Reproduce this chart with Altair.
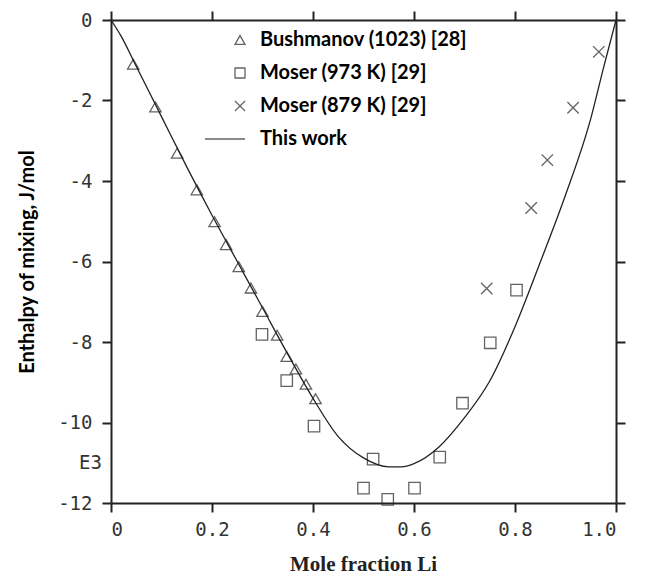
import altair as alt
import pandas as pd

# ---- data ----
series_names = ["Bushmanov  (1023) [28]", "Moser (973 K) [29]", "Moser (879 K) [29]", "This work"]

tri_x = [0.044, 0.088, 0.131, 0.170, 0.205, 0.228, 0.253, 0.277, 0.300, 0.329, 0.348, 0.366, 0.386, 0.405]
tri_y = [-1.10, -2.16, -3.31, -4.22, -5.01, -5.58, -6.13, -6.66, -7.24, -7.83, -8.36, -8.67, -9.05, -9.41]

sq_x = [0.299, 0.348, 0.402, 0.500, 0.519, 0.548, 0.601, 0.651, 0.696, 0.751, 0.803]
sq_y = [-7.81, -8.96, -10.09, -11.63, -10.91, -11.91, -11.63, -10.86, -9.52, -8.02, -6.71]

cr_x = [0.744, 0.832, 0.864, 0.915, 0.966]
cr_y = [-6.67, -4.67, -3.48, -2.18, -0.79]

curve_x = [0.0, 0.02, 0.05, 0.10, 0.15, 0.20, 0.25, 0.30, 0.35, 0.40, 0.45, 0.50, 0.55, 0.575,
           0.60, 0.65, 0.70, 0.75, 0.80, 0.85, 0.90, 0.95, 0.975, 1.0]
curve_y = [0.0, -0.40, -1.15, -2.40, -3.65, -4.85, -6.00, -7.15, -8.30, -9.40, -10.35, -10.88,
           -11.10, -11.10, -11.02, -10.60, -9.88, -8.97, -7.62, -6.02, -4.35, -2.45, -1.20, 0.0]

x_ticks = [0, 0.2, 0.4, 0.6, 0.8, 1.0]
y_ticks = [0, -2, -4, -6, -8, -10, -12]
e3_label = ["E3"]
e3_value = [-11]

# ---- tables ----
pts = pd.DataFrame({
    "x": tri_x + sq_x + cr_x,
    "y": tri_y + sq_y + cr_y,
    "series": [series_names[0]] * len(tri_x) + [series_names[1]] * len(sq_x) + [series_names[2]] * len(cr_x),
})
curve = pd.DataFrame({"x": curve_x, "y": curve_y})
e3 = pd.DataFrame({"lab": e3_label, "yv": e3_value})

xscale = alt.Scale(domain=[0, 1], nice=False, zero=False)
yscale = alt.Scale(domain=[-12, 0], nice=False, zero=False)

tick_font = "DejaVu Sans Mono"
tick_color = "#333333"

shape_scale = alt.Scale(
    domain=series_names,
    range=["triangle-up", "square", "M-1,-1L1,1M1,-1L-1,1", "M-7,0L1,0"],
)

points = alt.Chart(pts).mark_point(filled=False, size=130, color="#222222", strokeWidth=1.3).encode(
    x=alt.X("x:Q", scale=xscale, axis=alt.Axis(
        values=x_ticks, orient="bottom",
        labelExpr="datum.value == 0 ? '0' : format(datum.value, '.1f')",
        title="Mole fraction Li", titleFont="Liberation Serif", titleFontSize=21,
        titleFontWeight="bold", titleColor="#222222",
        titleX=252, titleY=61, titleAlign="center", titleBaseline="middle",
        labelPadding=8,
    )),
    y=alt.Y("y:Q", scale=yscale, axis=alt.Axis(
        values=y_ticks, orient="left",
        labelExpr="toString(datum.value)",
        title="Enthalpy of mixing,  J/mol", titleFont="Lato", titleFontSize=20,
        titleFontWeight="bold", titleColor="#000000",
        titleX=-84, titleY=241.5, titleAngle=270, titleAlign="center", titleBaseline="middle",
        labelPadding=10,
    )),
    shape=alt.Shape("series:N", scale=shape_scale, legend=alt.Legend(
        title=None, orient="none", legendX=119, legendY=10,
        labelFont="Lato", labelFontWeight="bold", labelFontSize=20, labelColor="#000000",
        labelLimit=400,
        symbolSize=100, symbolStrokeColor="#222222", symbolFillColor="transparent",
        symbolStrokeWidth=1.3, labelOffset=10, rowPadding=13, padding=0,
    )),
)

line = alt.Chart(curve).mark_line(color="#222222", strokeWidth=1.3, interpolate="monotone").encode(
    x=alt.X("x:Q", scale=xscale, axis=alt.Axis(values=x_ticks, orient="top", labels=False, title=None)),
    y=alt.Y("y:Q", scale=yscale, axis=alt.Axis(values=y_ticks, orient="right", labels=False, title=None)),
)

e3_text = alt.Chart(e3).mark_text(
    align="right", baseline="middle", font=tick_font, fontSize=19, color=tick_color
).encode(
    y=alt.Y("yv:Q", scale=yscale, axis=None),
    x=alt.value(-9),
    text="lab:N",
)

chart = alt.layer(line, points, e3_text).resolve_axis(
    x="independent", y="independent"
).properties(
    width=505, height=483,
    autosize=alt.AutoSizeParams(type="none"),
    padding={"left": 111, "top": 20, "right": 34, "bottom": 77},
).configure_view(stroke=None).configure_axis(
    grid=False, domainColor="#222222", domainWidth=2, tickColor="#222222", tickWidth=2,
    tickSize=9, labelFont=tick_font, labelFontSize=19, labelColor=tick_color,
)

chart.save("out.html", embed_options={"renderer": "svg", "actions": False})
